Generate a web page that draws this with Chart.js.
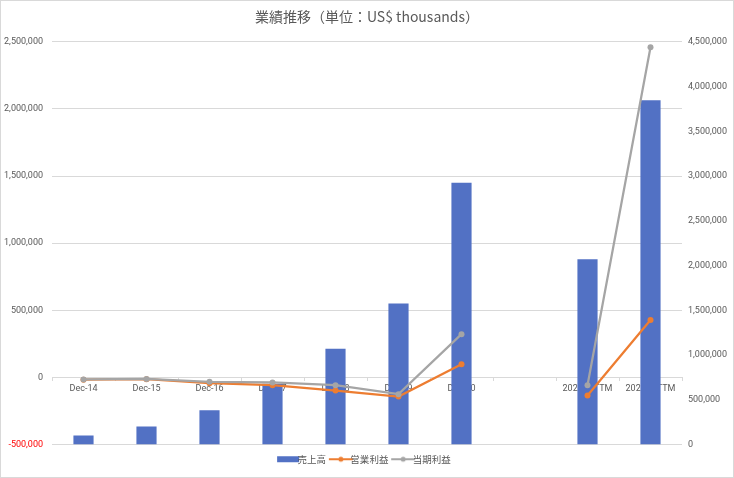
<!DOCTYPE html>
<html>
<head>
<meta charset="utf-8">
<script src="https://cdn.jsdelivr.net/npm/chart.js@4"></script>
<style>
  html, body { margin: 0; padding: 0; background: #fff; }
  #wrap { position: relative; width: 734px; height: 478px; }
</style>
</head>
<body>
<div id="wrap"><canvas id="perfChart" width="734" height="478"></canvas></div>
<script>
// categories (the blank one is the gap before the TTM columns)
const categories = ['Dec-14', 'Dec-15', 'Dec-16', 'Dec-17', 'Dec-18', 'Dec-19', 'Dec-20', '', '2020/6 TTM', '2021/6 TTM'];

// 売上高 - bars, right axis
const revenue = [101000, 202000, 383000, 680000, 1069000, 1575000, 2925000, null, 2070000, 3848000];
// 営業利益 - line, left axis
const operatingProfit = [-17000, -13000, -43000, -58000, -98000, -143000, 98000, null, -135000, 428000];
// 当期利益 - line, left axis
const netProfit = [-15000, -12000, -33000, -38000, -58000, -125000, 322000, null, -58000, 2460000];

// axis ranges
const leftTicks = { min: -500000, max: 2500000, step: 500000 };
const rightTicks = { min: 0, max: 4500000, step: 500000 };

const TEXT = '#595959';
const GRID = '#d9d9d9';
const BLUE = '#5271C4';
const ORANGE = '#ED7D31';
const GREY = '#A5A5A5';
const tickFont = { family: 'Roboto, "Noto Sans CJK JP", sans-serif', size: 9 };
const cjkFont = '"Noto Sans CJK JP", "Noto Sans", sans-serif';

function fmt(v) {
    return Number(v).toLocaleString('en-US');
}

// small legend swatches like Excel's
function legendSwatch(color, kind) {
    const c = document.createElement('canvas');
    c.width = 26; c.height = 10;
    const g = c.getContext('2d');
    if (kind === 'bar') {
        g.fillStyle = color;
        g.fillRect(2, 2, 22, 6);
    } else {
        g.strokeStyle = color;
        g.lineWidth = 2;
        g.beginPath(); g.moveTo(1, 5); g.lineTo(25, 5); g.stroke();
        g.fillStyle = color;
        g.beginPath(); g.arc(13, 5, 2.5, 0, Math.PI * 2); g.fill();
    }
    return c;
}

const frame = {
    id: 'frame',
    afterDraw(chart) {
        const ctx = chart.ctx;
        ctx.save();
        ctx.strokeStyle = GRID;
        ctx.lineWidth = 1;
        ctx.strokeRect(0.5, 0.5, chart.width - 1, chart.height - 1);
        ctx.restore();
    }
};

new Chart(document.getElementById('perfChart'), {
    type: 'bar',
    data: {
        labels: categories,
        datasets: [
            {
                label: '売上高',
                data: revenue,
                yAxisID: 'y1',
                order: 2,
                backgroundColor: BLUE,
                categoryPercentage: 1,
                barPercentage: 0.32,
                swatch: legendSwatch(BLUE, 'bar')
            },
            {
                type: 'line',
                label: '営業利益',
                data: operatingProfit,
                yAxisID: 'y',
                order: 1,
                borderColor: ORANGE,
                backgroundColor: ORANGE,
                borderWidth: 2.25,
                pointRadius: 3,
                pointBorderWidth: 0,
                spanGaps: false,
                swatch: legendSwatch(ORANGE, 'line')
            },
            {
                type: 'line',
                label: '当期利益',
                data: netProfit,
                yAxisID: 'y',
                order: 0,
                borderColor: GREY,
                backgroundColor: GREY,
                borderWidth: 2.25,
                pointRadius: 3,
                pointBorderWidth: 0,
                spanGaps: false,
                swatch: legendSwatch(GREY, 'line')
            }
        ]
    },
    options: {
        responsive: false,
        animation: false,
        layout: { padding: { left: 0, right: 0, top: 0, bottom: 4 } },
        plugins: {
            title: {
                display: true,
                text: '業績推移（単位：US$ thousands）',
                color: TEXT,
                font: { family: cjkFont, size: 14, weight: 'normal' },
                padding: { top: 8, bottom: 17 }
            },
            legend: {
                position: 'bottom',
                labels: {
                    color: TEXT,
                    font: { family: cjkFont, size: 9.5 },
                    usePointStyle: true,
                    padding: 10,
                    sort: (a, b) => a.datasetIndex - b.datasetIndex,
                    generateLabels(chart) {
                        return chart.data.datasets.map((ds, i) => ({
                            text: ds.label,
                            fontColor: TEXT,
                            pointStyle: ds.swatch,
                            datasetIndex: i,
                            hidden: !chart.isDatasetVisible(i),
                            lineWidth: 0
                        }));
                    }
                }
            },
            tooltip: { enabled: false }
        },
        scales: {
            x: {
                position: { y: 0 },
                offset: true,
                grid: { offset: true, drawOnChartArea: false, color: GRID, tickLength: 4 },
                border: { display: false },
                ticks: { color: TEXT, font: tickFont, maxRotation: 0, autoSkip: false, padding: 2 }
            },
            y: {
                position: 'left',
                min: leftTicks.min,
                max: leftTicks.max,
                grid: { color: GRID, drawTicks: false },
                border: { display: false },
                ticks: {
                    stepSize: leftTicks.step,
                    padding: 9,
                    font: tickFont,
                    color: ctx => ctx.tick.value < 0 ? '#FF0000' : TEXT,
                    callback: v => fmt(v)
                },
                afterFit(scale) { scale.width = 52; }
            },
            y1: {
                position: 'right',
                min: rightTicks.min,
                max: rightTicks.max,
                grid: { display: false, drawTicks: false },
                border: { display: false },
                ticks: {
                    stepSize: rightTicks.step,
                    padding: 6,
                    font: tickFont,
                    color: TEXT,
                    callback: v => fmt(v)
                },
                afterFit(scale) { scale.width = 52; }
            }
        }
    },
    plugins: [frame]
});
</script>
</body>
</html>
